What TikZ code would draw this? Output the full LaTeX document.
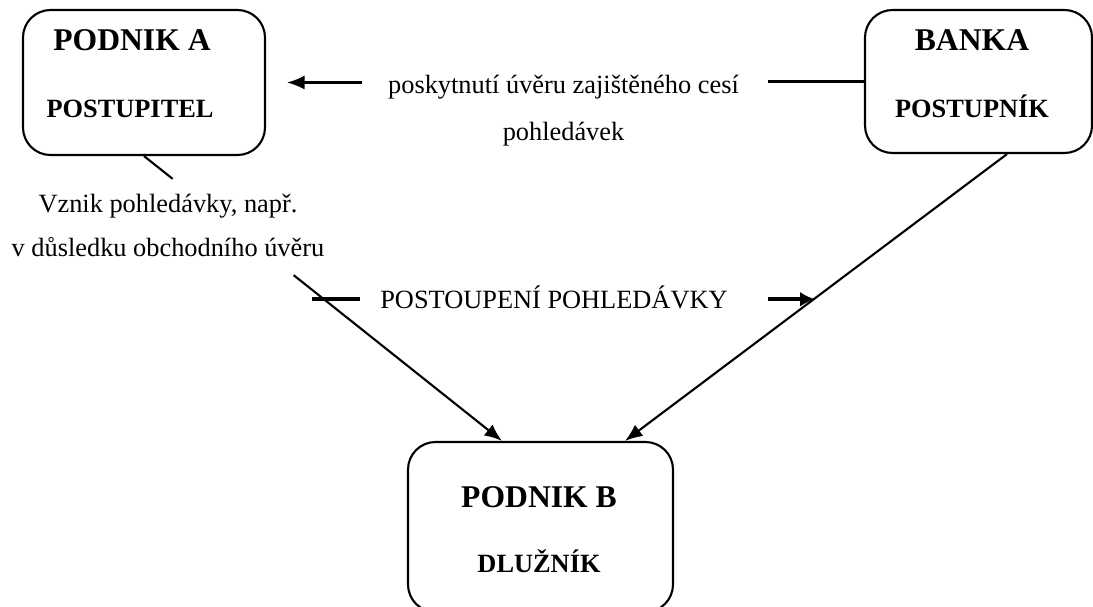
\documentclass[tikz,border=0pt]{standalone}
\usepackage{fontspec}
\setmainfont{Liberation Serif}
\usetikzlibrary{arrows.meta,calc,positioning}
\tikzstyle{box}=[draw, rounded corners=0.55cm, line width=1.2pt]
\tikzstyle{title}=[font=\fontsize{18}{22}\selectfont\bfseries, anchor=base, inner sep=0pt]
\tikzstyle{role}=[font=\fontsize{15}{18}\selectfont\bfseries, anchor=base, inner sep=0pt]
\tikzstyle{txt}=[font=\fontsize{15}{25}\selectfont, align=center, anchor=base, inner sep=0pt]
\tikzstyle{link}=[line width=1.2pt]
\tikzstyle{heavy}=[line width=2.3pt, >={Latex[length=0.3cm,width=0.3cm]}]

\begin{document}
\begin{tikzpicture}[>={Latex[length=0.35cm,width=0.28cm]}]
    \useasboundingbox (0,0) rectangle (21.86,-12.12);
    % boxes
    \node [box, minimum width=4.84cm, minimum height=2.9cm] (A) at (2.88,-1.65) {};
    \node [box, minimum width=4.54cm, minimum height=2.86cm] (banka) at (19.57,-1.63) {};
    \node [box, minimum width=5.3cm, minimum height=3.4cm] (B) at (10.81,-10.54) {};
    \node [title] (Aname) at (2.64,-1.0) {PODNIK A};
    \node [role] (Arole) at (2.60,-2.34) {POSTUPITEL};
    \node [title] (bname) at (19.44,-1.0) {BANKA};
    \node [role] (brole) at (19.44,-2.34) {POSTUPNÍK};
    \node [title] (Bname) at (10.78,-10.14) {PODNIK B};
    \node [role] (Brole) at (10.78,-11.45) {DLUŽNÍK};

    % texts (base = last line)
    \node [txt, font=\fontsize{15}{26.7}\selectfont] (credit) at (11.27,-2.80)
        {poskytnutí úvěru zajištěného cesí\\pohledávek};
    \node [txt] (vznik) at (3.36,-5.12)
        {Vznik pohledávky, např.\\v důsledku obchodního úvěru};
    \node [txt, text height=0.35cm, text depth=0pt] (assign) at (11.08,-6.16)
        {POSTOUPENÍ POHLEDÁVKY};

    % connectors
    \node (c1) [left of=banka, node distance=4.21cm, coordinate] {};
    \node (c2) [right of=A, node distance=2.86cm, coordinate] {};
    \node (c3) [right of=c2, node distance=1.5cm, coordinate] {};
    \draw [link] (banka.west) -- (c1);
    \draw [link,->] (c3) -- (c2);

    \coordinate (b1) at ([xshift=-0.77cm]B.north);
    \coordinate (b2) at ([xshift=1.69cm]B.north);
    \coordinate (k1) at ([xshift=0.57cm]banka.south);
    \coordinate (a1) at ($(A.south)!0.08!(b1)$);
    \coordinate (a2) at ($(A.south)!0.418!(b1)$);
    \draw [link] (A.south) -- (a1);
    \draw [link,->] (a2) -- (b1);
    \draw [link,->] (k1) -- (b2);

    \coordinate (p1) at ([xshift=-0.4cm]assign.west);
    \coordinate (p2) at ([xshift=0.8cm]assign.east);
    \draw [heavy] (p1) -- ++(-0.96,0);
    \draw [heavy,->] (p2) -- ++(0.94,0);
\end{tikzpicture}
\end{document}
